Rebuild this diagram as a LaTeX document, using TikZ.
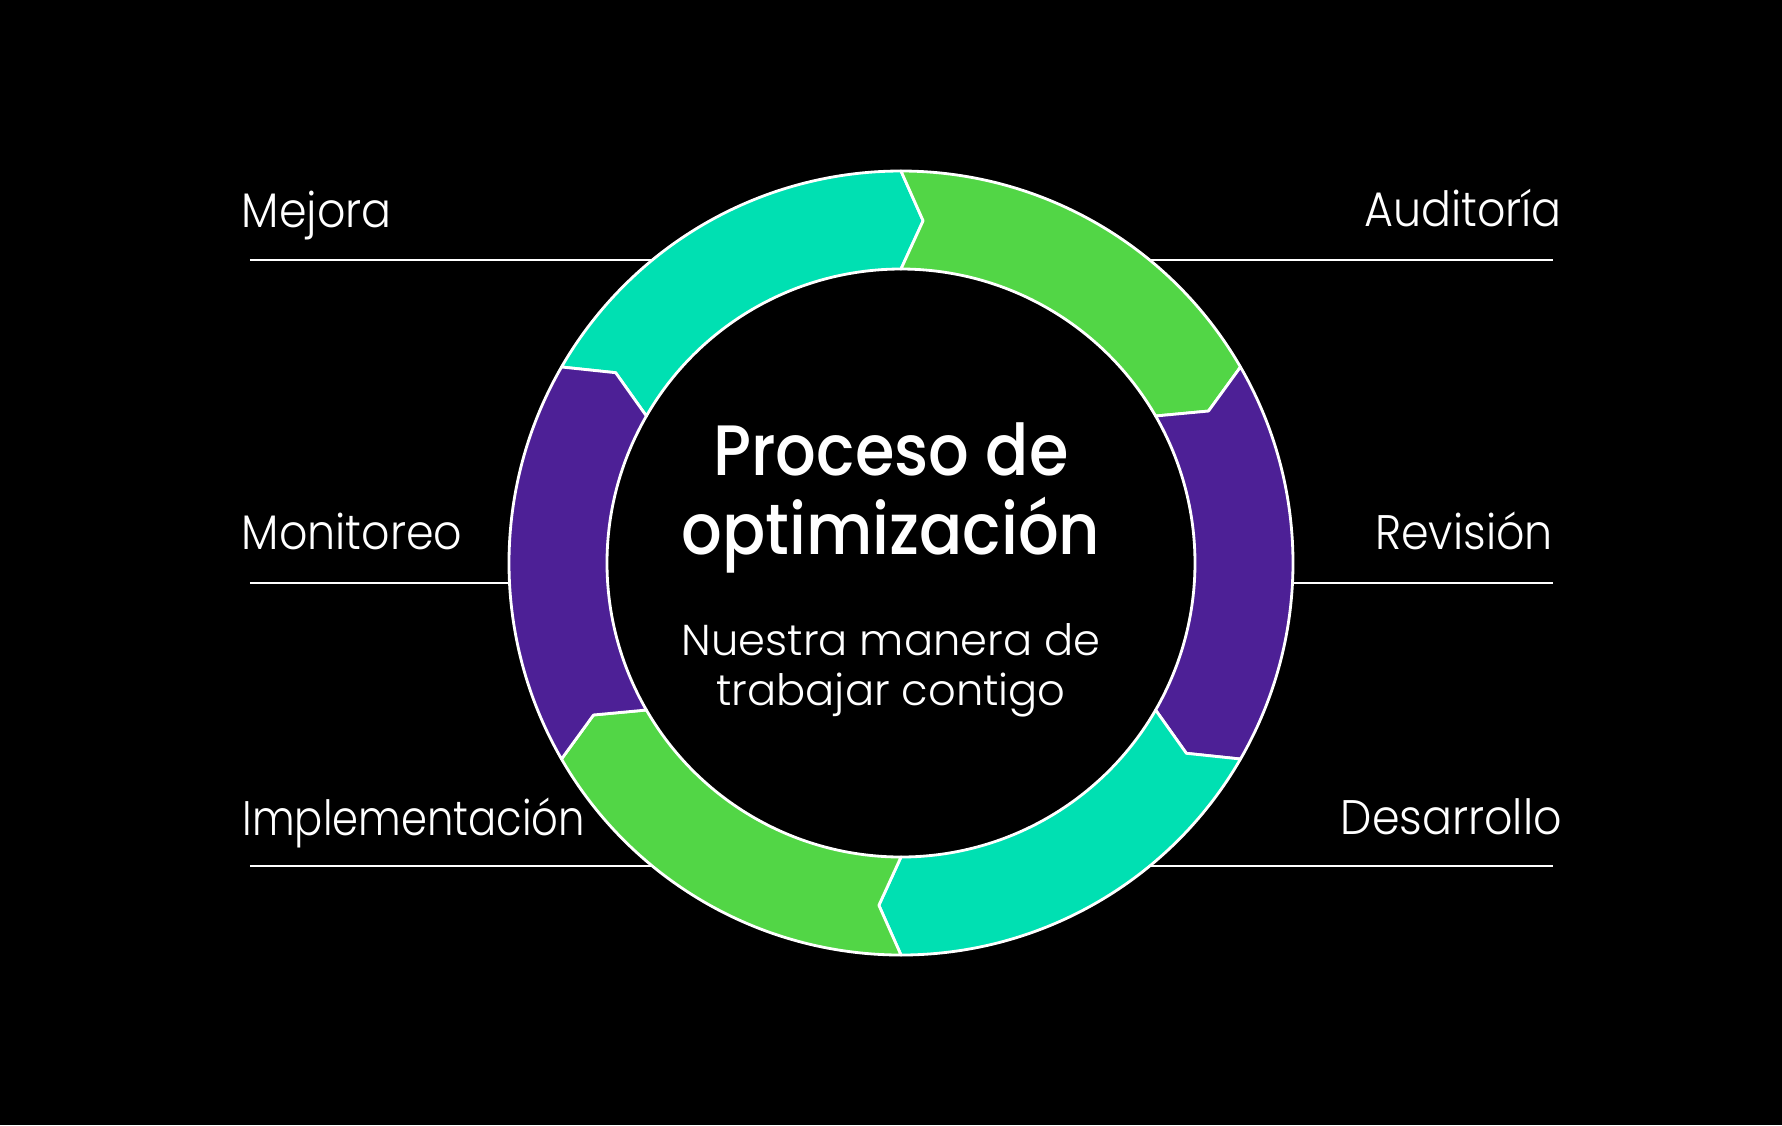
\documentclass[tikz,border=0pt]{standalone}
\usepackage{fontspec}
\setmainfont{Poppins Light}[FakeStretch=0.915]
\newfontfamily\titlefont{Poppins Medium}[FakeStretch=0.895]
\newfontfamily\subfont{Poppins Light}
\usetikzlibrary{positioning}
\definecolor{ringteal}{RGB}{0,224,178}
\definecolor{ringgreen}{RGB}{82,214,70}
\definecolor{ringpurple}{RGB}{77,32,150}

\begin{document}
\begin{tikzpicture}[
        etapa/.style={text=white, inner sep=0pt, font=\fontsize{13.8}{16}\selectfont},
        linea/.style={draw=white, line width=0.8pt},
        segmento/.style={draw=white, line width=0.8pt, line join=round},
        titulo/.style={text=white, inner sep=0pt, font=\titlefont\fontsize{20.3}{24}\selectfont},
        subtitulo/.style={text=white, inner sep=0pt, font=\subfont\fontsize{12.3}{14}\selectfont}
    ]
    % Fondo
    \fill[black] (-9.01,-5.62) rectangle (8.81,5.63);
    \useasboundingbox (-9.01,-5.62) rectangle (8.81,5.63);
    % Lineas
    \draw[linea] (-6.51,3.03) -- (6.52,3.03);
    \draw[linea] (-6.51,-0.20) -- (6.52,-0.20);
    \draw[linea] (-6.51,-3.03) -- (6.52,-3.03);
    % Anillo
    \fill[black] (0,0) circle (2.94);
    \foreach \a/\col in {150/ringteal, 90/ringgreen, 30/ringpurple, -30/ringteal, -90/ringgreen, -150/ringpurple}{
        \pgfmathsetmacro{\b}{\a-60}
        \filldraw[segmento, fill=\col] (\a:3.92) arc[start angle=\a, end angle=\b, radius=3.92]
            -- ({\b-3.7}:3.43) -- (\b:2.94) arc[start angle=\b, end angle=\a, radius=2.94]
            -- ({\a-3.7}:3.43) -- cycle;
    }
    % Etiquetas
    \node[etapa, anchor=base west] (mejora) at (-6.60,3.36) {Mejora};
    \node[etapa, anchor=base west] (monitoreo) at (-6.60,0.14) {Monitoreo};
    \node[etapa, anchor=base west] (implementacion) at (-6.59,-2.72) {\scalebox{0.94}[1]{Implementación}};
    \node[etapa, anchor=base east] (auditoria) at (6.615,3.37) {Auditoría};
    \node[etapa, anchor=base east] (revision) at (6.525,0.14) {Revisión};
    \node[etapa, anchor=base east] (desarrollo) at (6.615,-2.71) {Desarrollo};
    % Texto central
    \node[titulo, anchor=base] (proceso) at (-0.10,0.88) {Proceso de};
    \node[titulo, anchor=base] (optimizacion) at (-0.10,0.09) {optimización};
    \node[subtitulo, anchor=base] (nuestra) at (-0.10,-0.92) {Nuestra manera de};
    \node[subtitulo, anchor=base] (contigo) at (-0.10,-1.42) {trabajar contigo};
\end{tikzpicture}
\end{document}
